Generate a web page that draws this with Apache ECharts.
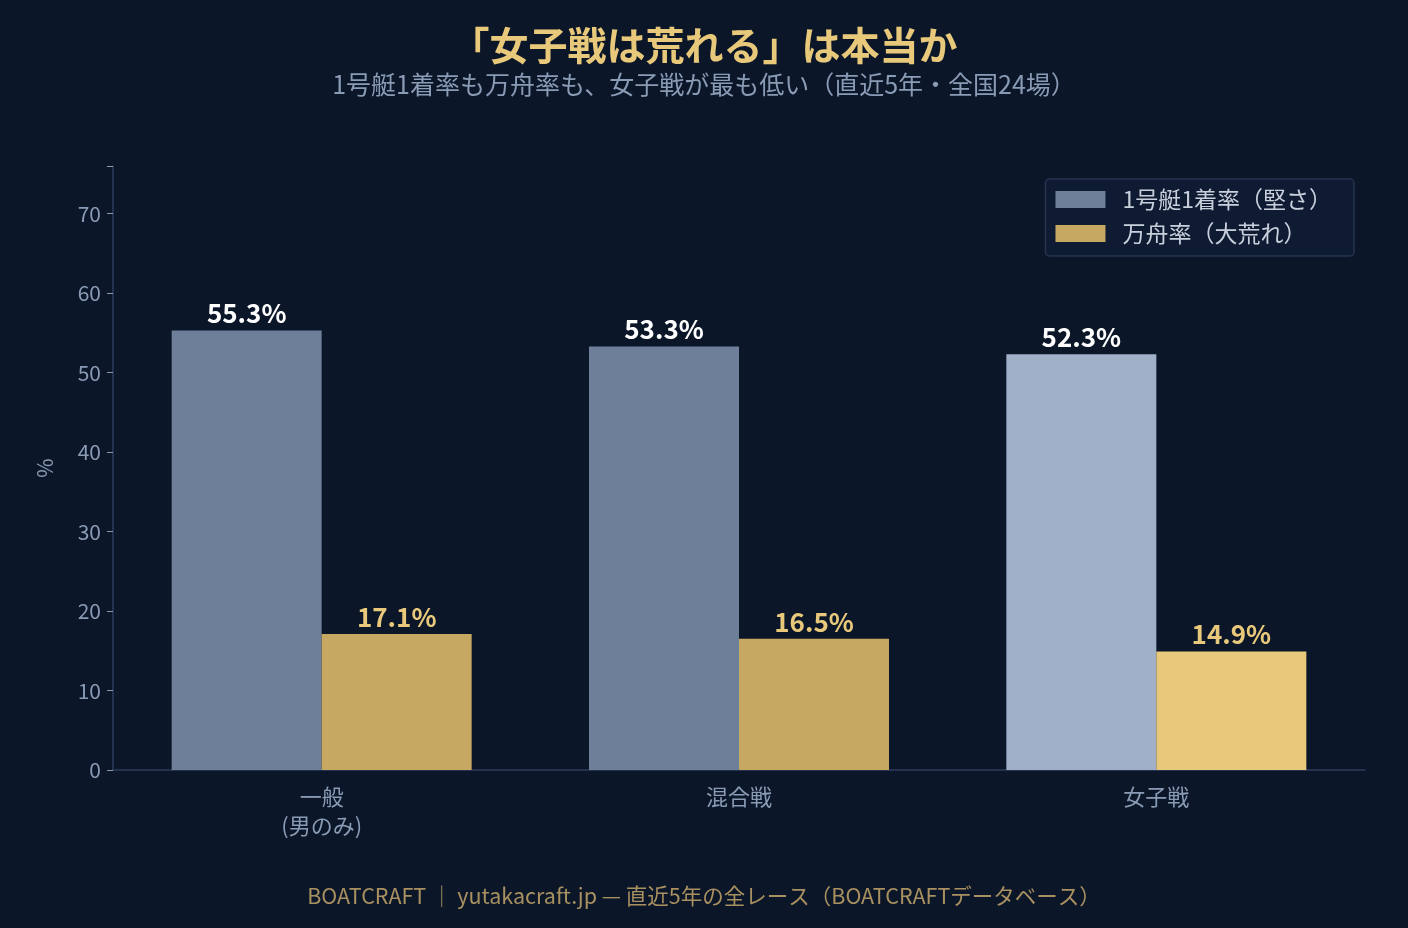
<!DOCTYPE html>
<html><head><meta charset="utf-8">
<script src="https://cdn.jsdelivr.net/npm/echarts@6/dist/echarts.min.js"></script>
<style>html,body{margin:0;padding:0;background:#0B1628}#c{width:1408px;height:928px}</style>
</head><body><div id="c"></div>
<script>
const categories = ['一般\n(男のみ)', '混合戦', '女子戦'];
const firstRate = [55.3, 53.3, 52.3];
const upsetRate = [17.1, 16.5, 14.9];
const seriesNames = ['1号艇1着率（堅さ）', '万舟率（大荒れ）'];
const yTicks = [0, 10, 20, 30, 40, 50, 60, 70];

const FONT = '"Noto Sans CJK JP", "Noto Sans", sans-serif';
const blue = '#6E7F99', blueHi = '#A0B0C8', gold = '#C6A862', goldHi = '#E8C87A';
const hiIndex = 2;

const chart = echarts.init(document.getElementById('c'), null, {renderer: 'canvas'});
chart.setOption({
  backgroundColor: '#0B1628',
  textStyle: {fontFamily: FONT},
  title: [
    {text: '「女子戦は荒れる」は本当か', left: 'center', top: 21,
     textStyle: {color: '#E8C87A', fontSize: 39, fontWeight: 'bold', fontFamily: FONT}},
    {text: '1号艇1着率も万舟率も、女子戦が最も低い（直近5年・全国24場）', left: 'center', top: 67,
     textStyle: {color: '#8A9BB5', fontSize: 25, fontWeight: 'normal', fontFamily: FONT}},
    {text: 'BOATCRAFT ｜ yutakacraft.jp — 直近5年の全レース（BOATCRAFTデータベース）', left: 'center', top: 880,
     textStyle: {color: '#A89060', fontSize: 21.5, fontWeight: 'normal', fontFamily: FONT}}
  ],
  legend: {
    right: 54, top: 179, orient: 'vertical', icon: 'rect',
    backgroundColor: '#0F1B33', borderColor: '#26344F', borderWidth: 1.5, borderRadius: 4,
    padding: [9, 22, 11, 10],
    itemWidth: 50, itemHeight: 17, itemGap: 11,
    textStyle: {color: '#C8D0DC', fontSize: 23, fontFamily: FONT, padding: [0, 0, 0, 12]},
    data: [
      {name: seriesNames[0], itemStyle: {color: blue}},
      {name: seriesNames[1], itemStyle: {color: gold}}
    ]
  },
  grid: {left: 113, right: 43, top: 166, bottom: 158},
  xAxis: {
    type: 'category', data: categories,
    axisLine: {lineStyle: {color: '#2E3D5C', width: 1.5}},
    axisTick: {alignWithLabel: true, length: 6, lineStyle: {color: '#8A9BB5'}},
    axisLabel: {color: '#8A9BB5', fontSize: 22, lineHeight: 29, margin: 12, fontFamily: FONT}
  },
  yAxis: {
    type: 'value', min: 0, max: 76, interval: 10,
    name: '%', nameLocation: 'middle', nameGap: 57, nameRotate: 90,
    nameTextStyle: {color: '#8A9BB5', fontSize: 21, fontFamily: FONT},
    axisLine: {show: true, lineStyle: {color: '#2E3D5C', width: 1.5}},
    axisTick: {show: true, length: 6, lineStyle: {color: '#8A9BB5'}},
    splitLine: {show: false},
    axisLabel: {color: '#8A9BB5', fontSize: 21, margin: 12, fontFamily: FONT,
      formatter: v => yTicks.includes(v) ? String(v) : ''}
  },
  series: [
    {name: seriesNames[0], type: 'bar', barWidth: 150, barGap: '0%',
     data: firstRate.map((v, i) => ({value: v, itemStyle: {color: i === hiIndex ? blueHi : blue}})),
     label: {show: true, position: 'top', distance: 4, formatter: p => p.value.toFixed(1) + '%',
       color: '#FFFFFF', fontSize: 26, fontWeight: 'bold', fontFamily: FONT}},
    {name: seriesNames[1], type: 'bar', barWidth: 150, barGap: '0%',
     data: upsetRate.map((v, i) => ({value: v, itemStyle: {color: i === hiIndex ? goldHi : gold}})),
     label: {show: true, position: 'top', distance: 4, formatter: p => p.value.toFixed(1) + '%',
       color: '#E8C87A', fontSize: 26, fontWeight: 'bold', fontFamily: FONT}}
  ]
});
</script></body></html>
